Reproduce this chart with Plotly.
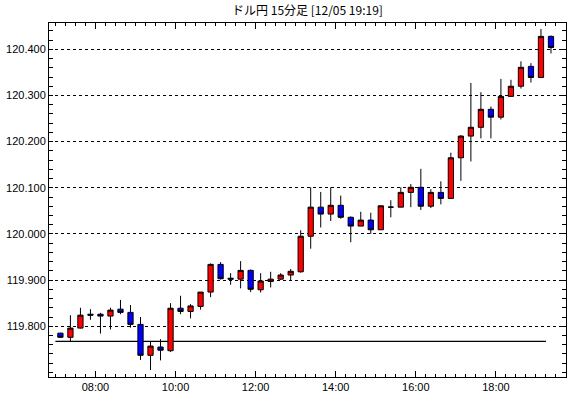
import plotly.graph_objects as go
import pandas as pd

title_text = "ドル円 15分足 [12/05 19:19]"
session_date = "2014-12-05"

bar_times = [
    "07:00", "07:15", "07:30", "07:45", "08:00", "08:15", "08:30", "08:45",
    "09:00", "09:15", "09:30", "09:45", "10:00", "10:15", "10:30", "10:45",
    "11:00", "11:15", "11:30", "11:45", "12:00", "12:15", "12:30", "12:45",
    "13:00", "13:15", "13:30", "13:45", "14:00", "14:15", "14:30", "14:45",
    "15:00", "15:15", "15:30", "15:45", "16:00", "16:15", "16:30", "16:45",
    "17:00", "17:15", "17:30", "17:45", "18:00", "18:15", "18:30", "18:45",
    "19:00", "19:15",
]

open_ = [
    119.785, 119.776, 119.796, 119.826, 119.826, 119.822, 119.837, 119.830,
    119.804, 119.737, 119.755, 119.747, 119.839, 119.832, 119.843, 119.874,
    119.934, 119.904, 119.902, 119.921, 119.879, 119.897, 119.902, 119.911,
    119.918, 119.995, 120.058, 120.043, 120.062, 120.036, 120.017, 120.030,
    120.009, 120.058, 120.058, 120.090, 120.101, 120.060, 120.090, 120.077,
    120.165, 120.212, 120.231, 120.270, 120.253, 120.298, 120.320, 120.363,
    120.339, 120.428,
]
high = [
    119.786, 119.824, 119.840, 119.837, 119.829, 119.840, 119.857, 119.846,
    119.820, 119.767, 119.772, 119.850, 119.866, 119.848, 119.874, 119.936,
    119.939, 119.915, 119.941, 119.923, 119.915, 119.918, 119.915, 119.924,
    120.008, 120.101, 120.091, 120.101, 120.083, 120.038, 120.048, 120.046,
    120.061, 120.073, 120.101, 120.108, 120.141, 120.097, 120.114, 120.176,
    120.214, 120.327, 120.307, 120.276, 120.336, 120.334, 120.374, 120.370,
    120.444, 120.430,
]
low = [
    119.775, 119.767, 119.795, 119.814, 119.784, 119.793, 119.826, 119.797,
    119.727, 119.705, 119.726, 119.744, 119.826, 119.817, 119.836, 119.863,
    119.901, 119.890, 119.882, 119.874, 119.873, 119.884, 119.900, 119.900,
    119.916, 119.968, 120.014, 120.028, 120.033, 119.982, 120.017, 120.000,
    120.009, 120.036, 120.058, 120.058, 120.052, 120.056, 120.064, 120.076,
    120.115, 120.157, 120.207, 120.207, 120.248, 120.298, 120.315, 120.328,
    120.339, 120.391,
]
close = [
    119.776, 119.796, 119.824, 119.824, 119.822, 119.835, 119.830, 119.804,
    119.737, 119.757, 119.748, 119.839, 119.832, 119.844, 119.874, 119.934,
    119.903, 119.902, 119.921, 119.880, 119.898, 119.902, 119.911, 119.919,
    119.995, 120.058, 120.043, 120.062, 120.036, 120.017, 120.030, 120.009,
    120.061, 120.058, 120.090, 120.101, 120.060, 120.090, 120.077, 120.165,
    120.212, 120.231, 120.270, 120.253, 120.298, 120.320, 120.361, 120.339,
    120.428, 120.404,
]

ref_level = 119.767
y_ticks = [119.800, 119.900, 120.000, 120.100, 120.200, 120.300, 120.400]
x_tick_labels = ["08:00", "10:00", "12:00", "14:00", "16:00", "18:00"]

starts = pd.to_datetime([f"{session_date} {t}" for t in bar_times])
centers = starts + pd.Timedelta(minutes=7.5)

fig = go.Figure()
fig.add_trace(go.Candlestick(
    x=centers, open=open_, high=high, low=low, close=close,
    increasing=dict(fillcolor="#FF0000", line=dict(color="black", width=1)),
    decreasing=dict(fillcolor="#0000FF", line=dict(color="black", width=1)),
    whiskerwidth=0, hoverinfo="skip", showlegend=False,
))

fig.add_shape(type="line", xref="x", yref="y",
              x0=starts[0], x1=starts[-1], y0=ref_level, y1=ref_level,
              line=dict(color="black", width=1.2), layer="below")

font_ticks = dict(family="Liberation Sans, Arial, sans-serif", size=11, color="black")

fig.update_layout(
    width=570, height=398,
    margin=dict(l=49, r=4, t=23, b=21, autoexpand=False),
    paper_bgcolor="white", plot_bgcolor="white",
    boxgap=0.25,
    title=dict(text=title_text, x=0.5, xref="paper", xanchor="center",
               y=1 - 11 / 398, yref="container", yanchor="middle",
               automargin=False,
               font=dict(family="Noto Sans CJK JP", size=12, color="black")),
    xaxis=dict(
        type="date", automargin=False,
        range=[f"{session_date} 06:50:24", f"{session_date} 19:45:00"],
        rangeslider=dict(visible=False),
        tickvals=pd.to_datetime([f"{session_date} {t}" for t in x_tick_labels]),
        ticktext=x_tick_labels,
        ticks="inside", ticklen=6, tickcolor="black", tickwidth=1,
        minor=dict(dtick=900000, tick0=f"{session_date} 00:00", ticks="inside",
                   ticklen=3, tickcolor="black", showgrid=False),
        showline=True, linecolor="black", linewidth=1, mirror="ticks",
        showgrid=False, zeroline=False,
        tickfont=font_ticks,
    ),
    yaxis=dict(
        automargin=False,
        range=[119.690, 120.457],
        tickvals=y_ticks,
        ticktext=[f"{v:.3f}" for v in y_ticks],
        ticks="inside", ticklen=4, tickcolor="black", tickwidth=1,
        minor=dict(dtick=0.02, tick0=119.8, ticks="inside", ticklen=4,
                   tickcolor="black", showgrid=False),
        showline=True, linecolor="black", linewidth=1, mirror="ticks",
        showgrid=True, gridcolor="black", gridwidth=1, griddash="dot",
        zeroline=False,
        tickfont=font_ticks,
    ),
)

fig.write_html("out.html",
               config={"displayModeBar": False},
               post_script="document.body.style.margin='0';document.body.style.overflow='hidden';")
